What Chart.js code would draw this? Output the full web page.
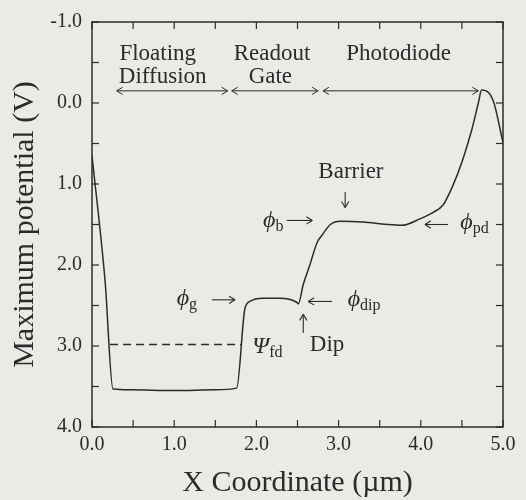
<!DOCTYPE html>
<html>
<head>
<meta charset="utf-8">
<script src="https://cdn.jsdelivr.net/npm/chart.js@4.4.1/dist/chart.umd.min.js"></script>
<style>
  html, body { margin: 0; padding: 0; background: #ebeae6; }
  #wrap { width: 526px; height: 500px; }
</style>
</head>
<body>
<div id="wrap"><canvas id="chart" width="526" height="500"></canvas></div>
<script>
// potential profile along the device
const xCoord = [0.00, 0.16, 0.255, 0.46, 1.01, 1.50, 1.76, 1.86, 1.92, 2.08, 2.29, 2.49, 2.51, 2.57, 2.65, 2.74, 2.80, 2.90, 3.02, 3.30, 3.59, 3.77, 3.99, 4.15, 4.27, 4.39, 4.51, 4.62, 4.70, 4.74, 4.88, 5.00];
const potential = [0.65, 2.21, 3.53, 3.54, 3.55, 3.54, 3.52, 2.54, 2.45, 2.41, 2.41, 2.46, 2.48, 2.24, 2.00, 1.72, 1.63, 1.50, 1.46, 1.47, 1.50, 1.51, 1.43, 1.35, 1.26, 1.02, 0.70, 0.33, 0.00, -0.16, -0.03, 0.49];

// floating diffusion level (dashed)
const fdX = [0.22, 1.82];
const fdY = [2.98, 2.98];

const xTickVals = [0, 0.5, 1, 1.5, 2, 2.5, 3, 3.5, 4, 4.5, 5];
const yTickVals = [-1, -0.5, 0, 0.5, 1, 1.5, 2, 2.5, 3, 3.5, 4];

const INK = '#2b2b2b';
const SERIF = "'Liberation Serif', 'Times New Roman', serif";

// region labels
const regions = [
  { from: 0.30, to: 1.65, lines: ['Floating', 'Diffusion'], cx: [0.80, 0.86] },
  { from: 1.70, to: 2.75, lines: ['Readout', 'Gate'], cx: [2.19, 2.17] },
  { from: 2.81, to: 4.70, lines: ['Photodiode'], cx: [3.73] },
];
const regionY = -0.15;
const regionTextY = [-0.53, -0.25];

// symbol labels: [symbol, subscript, x, y]
const symbols = [
  ['ϕ', 'g', 1.03, 2.49],
  ['ϕ', 'b', 2.08, 1.53],
  ['ϕ', 'pd', 4.48, 1.56],
  ['ϕ', 'dip', 3.11, 2.50],
  ['Ψ', 'fd', 1.95, 3.09],
];
const plainTexts = [
  ['Barrier', 3.15, 0.92],
  ['Dip', 2.65, 3.06],
];
// small arrows: [x1, y1, x2, y2] head at (x2, y2)
const arrows = [
  [1.46, 2.43, 1.74, 2.43],
  [2.37, 1.45, 2.68, 1.45],
  [4.33, 1.50, 4.05, 1.50],
  [2.92, 2.45, 2.63, 2.45],
  [2.57, 2.84, 2.57, 2.61],
  [3.08, 1.10, 3.08, 1.29],
];

function seg(ctx, x1, y1, x2, y2) {
  ctx.beginPath(); ctx.moveTo(x1, y1); ctx.lineTo(x2, y2); ctx.stroke();
}
function head(ctx, x1, y1, x2, y2, s) {
  const a = Math.atan2(y2 - y1, x2 - x1);
  seg(ctx, x2, y2, x2 - s * Math.cos(a - 0.55), y2 - s * Math.sin(a - 0.55));
  seg(ctx, x2, y2, x2 - s * Math.cos(a + 0.55), y2 - s * Math.sin(a + 0.55));
}

const framePlugin = {
  id: 'frame',
  afterDatasetsDraw(chart) {
    const { ctx, chartArea: a, scales: { x, y } } = chart;
    ctx.save();
    ctx.strokeStyle = INK;
    ctx.fillStyle = INK;
    ctx.lineWidth = 1.5;
    ctx.strokeRect(a.left, a.top, a.right - a.left, a.bottom - a.top);
    ctx.lineWidth = 1.2;
    xTickVals.forEach(v => {
      const p = x.getPixelForValue(v);
      seg(ctx, p, a.bottom, p, a.bottom - 7);
      seg(ctx, p, a.top, p, a.top + 7);
    });
    yTickVals.forEach(v => {
      const p = y.getPixelForValue(v);
      seg(ctx, a.left, p, a.left + 7, p);
      seg(ctx, a.right, p, a.right - 7, p);
    });

    // region arrows and names
    ctx.lineWidth = 1;
    ctx.font = '23px ' + SERIF;
    ctx.textAlign = 'center';
    ctx.textBaseline = 'alphabetic';
    const ry = y.getPixelForValue(regionY);
    regions.forEach(r => {
      const x1 = x.getPixelForValue(r.from), x2 = x.getPixelForValue(r.to);
      seg(ctx, x1, ry, x2, ry);
      head(ctx, x2 - 1, ry, x2, ry, 7);
      head(ctx, x1 + 1, ry, x1, ry, 7);
      r.lines.forEach((t, i) => ctx.fillText(t, x.getPixelForValue(r.cx[i]), y.getPixelForValue(regionTextY[i])));
    });

    plainTexts.forEach(([t, xv, yv]) => {
      ctx.textAlign = t === 'Barrier' ? 'center' : 'left';
      ctx.fillText(t, x.getPixelForValue(xv), y.getPixelForValue(yv));
    });
    ctx.textAlign = 'left';
    symbols.forEach(([s, sub, xv, yv]) => {
      const px = x.getPixelForValue(xv), py = y.getPixelForValue(yv);
      ctx.font = 'italic 24px ' + SERIF;
      ctx.fillText(s, px, py);
      const w = ctx.measureText(s).width;
      ctx.font = '16px ' + SERIF;
      ctx.fillText(sub, px + w, py + 4);
    });

    ctx.lineWidth = 1.1;
    arrows.forEach(([xa, ya, xb, yb]) => {
      const x1 = x.getPixelForValue(xa), y1 = y.getPixelForValue(ya);
      const x2 = x.getPixelForValue(xb), y2 = y.getPixelForValue(yb);
      seg(ctx, x1, y1, x2, y2);
      head(ctx, x1, y1, x2, y2, 7);
    });
    ctx.restore();
  }
};

const tickFont = { family: SERIF, size: 20 };
const titleFont = { family: SERIF, size: 30, lineHeight: 1 };

new Chart(document.getElementById('chart'), {
  type: 'line',
  data: {
    datasets: [
      {
        data: xCoord.map((v, i) => ({ x: v, y: potential[i] })),
        borderColor: INK, borderWidth: 1.5, pointRadius: 0,
        cubicInterpolationMode: 'monotone', fill: false,
      },
      {
        data: fdX.map((v, i) => ({ x: v, y: fdY[i] })),
        borderColor: INK, borderWidth: 1.5, borderDash: [8, 5], pointRadius: 0, fill: false,
      },
    ]
  },
  options: {
    responsive: false,
    devicePixelRatio: 1,
    animation: false,
    layout: { padding: { top: 19, right: 23, left: 0, bottom: 0 } },
    plugins: { legend: { display: false }, tooltip: { enabled: false } },
    scales: {
      x: {
        type: 'linear', min: 0, max: 5,
        grid: { display: false, drawTicks: false },
        border: { display: false },
        ticks: { stepSize: 1, padding: 6, color: INK, font: tickFont, maxRotation: 0, callback: v => v.toFixed(1) },
        title: { display: true, text: 'X Coordinate (µm)', color: INK, font: titleFont, padding: { top: 0, bottom: 2 } },
        afterFit: s => { s.height = 73; },
      },
      y: {
        type: 'linear', min: -1, max: 4, reverse: true,
        grid: { display: false, drawTicks: false },
        border: { display: false },
        ticks: { stepSize: 1, padding: 10, color: INK, font: tickFont, callback: v => v.toFixed(1) },
        title: { display: true, text: 'Maximum potential (V)', color: INK, font: titleFont, padding: { top: 10, bottom: 0 } },
        afterFit: s => { s.width = 92; },
      },
    },
  },
  plugins: [framePlugin],
});
</script>
</body>
</html>
